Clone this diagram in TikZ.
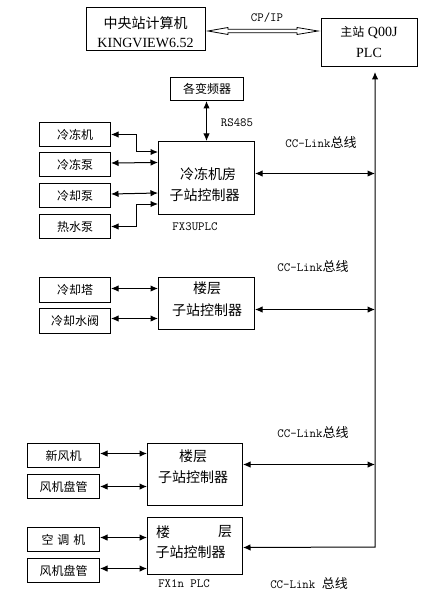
\documentclass[tikz,border=0pt]{standalone}
\usepackage{fontspec}
\setmainfont{Liberation Serif}
\newfontfamily\cjk{Noto Sans CJK SC}
\newcommand\mono{\ttfamily}
\usetikzlibrary{arrows.meta,calc}
\begin{document}
\begin{tikzpicture}[x=1pt,y=-1pt,
  box/.style={draw,line width=1pt,inner sep=0pt,anchor=north west},
  txt/.style={inner sep=0pt,font=\cjk\fontsize{12}{12}\selectfont},
  btxt/.style={inner sep=0pt,font=\cjk\fontsize{14}{14}\selectfont},
  lat/.style={inner sep=0pt,font=\fontsize{14}{14}\selectfont},
  mtxt/.style={inner sep=0pt,font=\mono\fontsize{12.5}{12.5}\selectfont},
  link/.style={line width=1pt},
  dbl/.style={link,{Latex[length=7.5pt,width=6.5pt]}-{Latex[length=7.5pt,width=6.5pt]}}]
\useasboundingbox (0,0) rectangle (429,596);
% top boxes
\node[box,minimum width=119pt,minimum height=43pt] (c0) at (86,7) {};
\node[btxt] (c0a) at (145.5,23) {中央站计算机};
\node[lat] (c0b) at (145.5,43) {KINGVIEW6.52};
\node[box,minimum width=96pt,minimum height=48pt] (m) at (321,18) {};
\node[lat] (ma) at (369,33) {{\cjk\fontsize{12}{12}\selectfont 主站} Q00J};
\node[lat] (mb) at (369,53) {PLC};
% hollow double arrow
\coordinate (hl) at ($(c0.east)+(2,2)$);
\coordinate (hr) at ($(m.west |- hl)+(-3,0)$);
\draw[line width=0.8pt] (hl) -- ++(20,-3.5) -- ++(0,1.8) -- ($(hr)+(-21,-1.7)$) -- ++(0,-1.8) -- (hr)
  -- ++(-21,3.5) -- ++(0,-1.8) -- ($(hl)+(20,1.7)$) -- ++(0,1.8) -- cycle;
\node[mtxt] (cpip) at (267,18) {CP/IP};
% inverters
\node[box,minimum width=73pt,minimum height=23pt,txt] (v) at (170,77) {各变频器};
% chiller room controller
\node[box,minimum width=96pt,minimum height=73pt] (c1) at (158,141) {};
\node[btxt] (c1a) at (208,174.5) {冷冻机房};
\node[btxt] (c1b) at (204.5,195.5) {子站控制器};
\node[mtxt] (fx3) at (195,227) {FX3UPLC};
\draw[dbl] (c1.north) -- (c1.north |- v.south);
\node[mtxt] (rs) at (237,123) {RS485};
\node[box,minimum width=71pt,minimum height=24pt,txt] (l1) at (39,122) {冷冻机};
\node[box,minimum width=71pt,minimum height=24pt,txt] (l2) at (39,152) {冷冻泵};
\node[box,minimum width=71pt,minimum height=24pt,txt] (l3) at (39,183) {冷却泵};
\node[box,minimum width=71pt,minimum height=24pt,txt] (l4) at (39,214) {热水泵};
\draw[dbl] (l1.east) -- ++(25,0) |- ($(c1.north west)+(0,11)$);
\draw[dbl] ($(l2.east)+(0,-1.5)$) -- ($(c1.north west)+(0,21.5)$);
\draw[dbl] ($(l3.east)+(0,-1.5)$) -- ($(c1.north west)+(0,52)$);
\draw[dbl] (l4.east) -- ++(25,0) |- ($(c1.north west)+(0,63)$);
% bus
\coordinate (bb) at (375,547);
\draw[dbl] ($(c1.east)+(0,-4.5)$) -- ($(c1.east -| bb)+(0,-4.5)$);
\node[font=\mono\fontsize{12.5}{12.5}\selectfont,inner sep=0pt] (cc1) at (321,143) {CC-Link{\cjk\fontsize{13}{13}\selectfont 总线}};
% floor controller 1
\node[box,minimum width=96pt,minimum height=52pt] (c2) at (158,277) {};
\node[btxt] (c2a) at (207,288) {楼层};
\node[btxt] (c2b) at (207,310) {子站控制器};
\node[box,minimum width=71pt,minimum height=25pt,txt] (l5) at (39,277) {冷却塔};
\node[box,minimum width=71pt,minimum height=25pt,txt] (l6) at (39,308) {冷却水阀};
\draw[dbl] ($(l5.east)+(0,-1.5)$) -- ($(l5.east -| c2.west)+(0,-1.5)$);
\draw[dbl] ($(l6.east)+(0,-2.5)$) -- ($(l6.east -| c2.west)+(0,-2.5)$);
\draw[dbl] ($(c2.east)+(0,6)$) -- ($(c2.east -| bb)+(0,6)$);
\node[font=\mono\fontsize{12.5}{12.5}\selectfont,inner sep=0pt] (cc2) at (313,267) {CC-Link{\cjk\fontsize{13}{13}\selectfont 总线}};
% floor controller 2
\node[box,minimum width=95pt,minimum height=62pt] (c3) at (147,443) {};
\node[btxt] (c3a) at (193,456) {楼层};
\node[btxt] (c3b) at (193,477) {子站控制器};
\node[box,minimum width=72pt,minimum height=24pt,txt] (l7) at (27,443) {新风机};
\node[box,minimum width=72pt,minimum height=24pt,txt] (l8) at (27,474) {风机盘管};
\draw[dbl] ($(l7.east)+(0,-2)$) -- ($(l7.east -| c3.west)+(0,-2)$);
\draw[dbl] (l8.east) -- (l8.east -| c3.west);
\draw[dbl] ($(c3.east)+(0,-10)$) -- ($(c3.east -| bb)+(0,-10)$);
\node[font=\mono\fontsize{12.5}{12.5}\selectfont,inner sep=0pt] (cc3) at (313,433) {CC-Link{\cjk\fontsize{13}{13}\selectfont 总线}};
% floor controller 3
\node[box,minimum width=95pt,minimum height=57pt] (c4) at (147,517) {};
\node[btxt] (c4a) at (163,532) {楼};
\node[btxt] (c4b) at (225,532) {层};
\node[btxt] (c4c) at (190.5,552) {子站控制器};
\node[mtxt] (fx1) at (184,584) {FX1n PLC};
\node[box,minimum width=72pt,minimum height=24pt,txt] (l9) at (27,527) {空\,\,调\,\,机};
\node[box,minimum width=72pt,minimum height=24pt,txt] (l10) at (27,558) {风机盘管};
\draw[dbl] ($(l9.east)+(0,-2)$) -- ($(l9.east -| c4.west)+(0,-2)$);
\draw[dbl] ($(l10.east)+(0,-2)$) -- ($(l10.east -| c4.west)+(0,-2)$);
\node[font=\mono\fontsize{12.5}{12.5}\selectfont,inner sep=0pt] (cc4) at (309,584) {CC-Link {\cjk\fontsize{13}{13}\selectfont 总线}};
% main bus line
\draw[dbl,shorten >=5pt] ($(c4.east)+(0,1.5)$) -- (bb) -- (m.south -| bb);
\end{tikzpicture}
\end{document}
